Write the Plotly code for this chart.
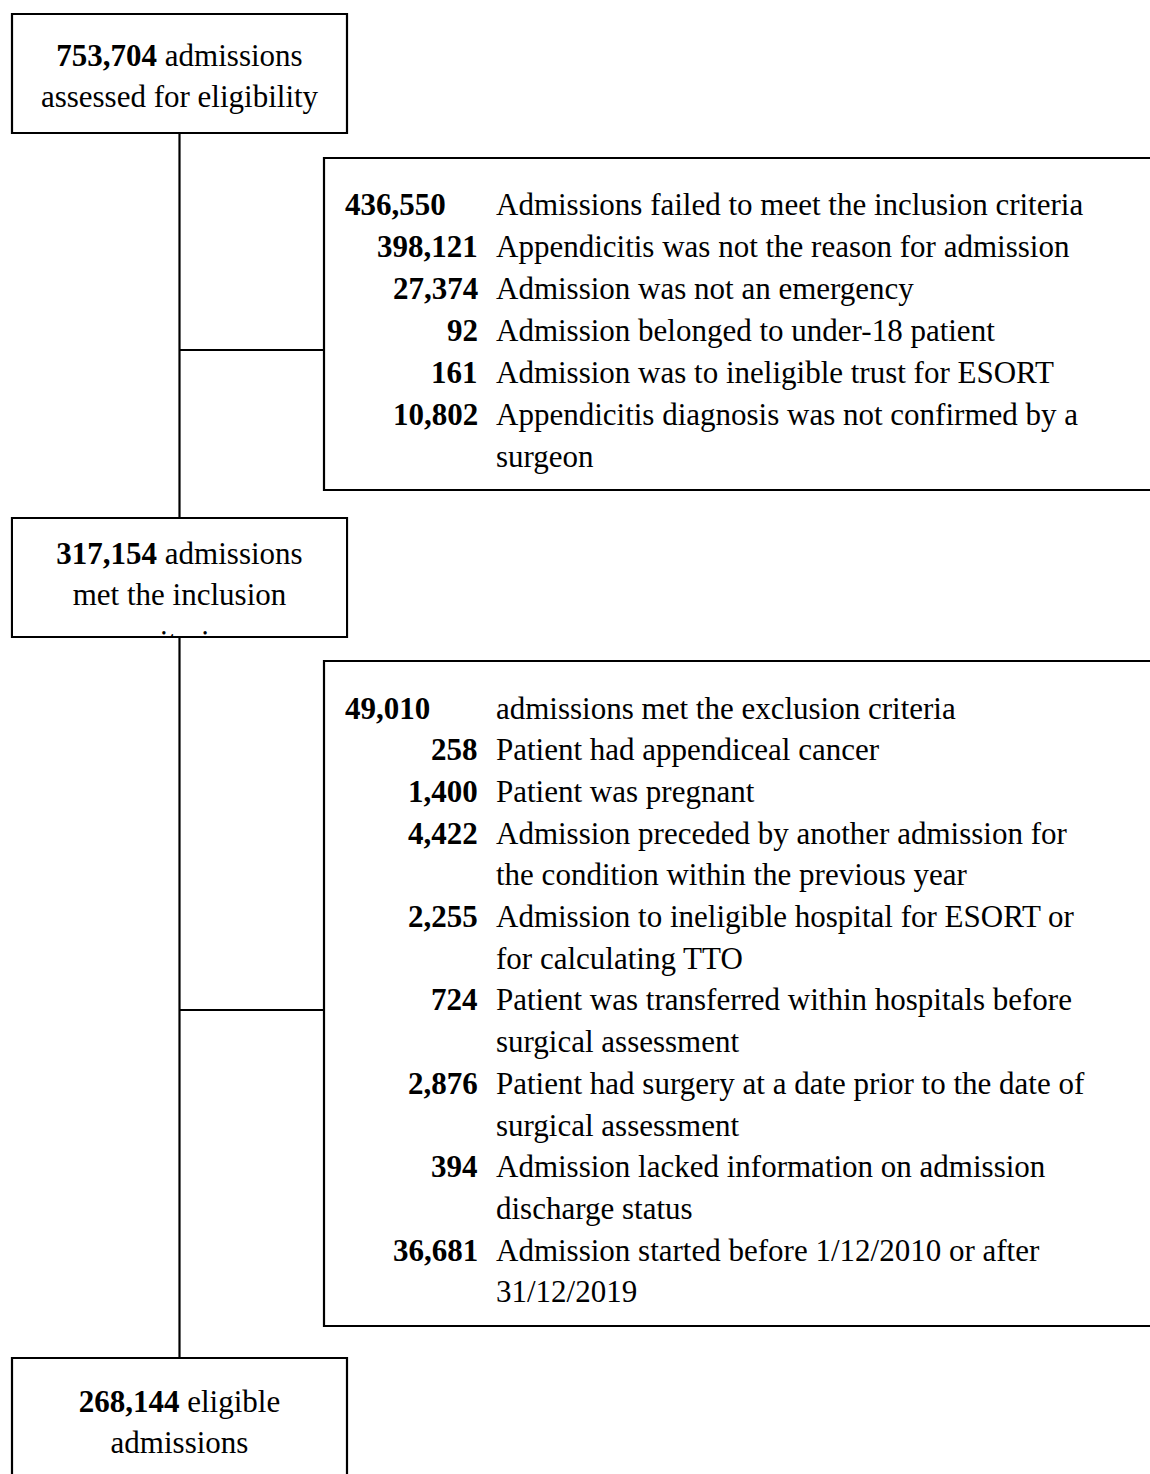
import plotly.graph_objects as go

# ---------------- data ----------------
stage_counts = ["753,704", "317,154", "268,144"]
stage_first_words = ["admissions", "admissions", "eligible"]
stage_more_lines = [["assessed for eligibility"],
                    ["met the inclusion", "criteria"],
                    ["admissions"]]

incl_total = "436,550"
incl_total_label = "Admissions failed to meet the inclusion criteria"
incl_counts = ["398,121", "27,374", "92", "161", "10,802"]
incl_reasons = [["Appendicitis was not the reason for admission"],
                ["Admission was not an emergency"],
                ["Admission belonged to under-18 patient"],
                ["Admission was to ineligible trust for ESORT"],
                ["Appendicitis diagnosis was not confirmed by a", "surgeon"]]

excl_total = "49,010"
excl_total_label = "admissions met the exclusion criteria"
excl_counts = ["258", "1,400", "4,422", "2,255", "724", "2,876", "394", "36,681"]
excl_reasons = [["Patient had appendiceal cancer"],
                ["Patient was pregnant"],
                ["Admission preceded by another admission for",
                 "the condition within the previous year"],
                ["Admission to ineligible hospital for ESORT or",
                 "for calculating TTO"],
                ["Patient was transferred within hospitals before",
                 "surgical assessment"],
                ["Patient had surgery at a date prior to the date of",
                 "surgical assessment"],
                ["Admission lacked information on admission",
                 "discharge status"],
                ["Admission started before 1/12/2010 or after",
                 "31/12/2019"]]

# ---------------- layout constants ----------------
W, H = 1150, 1474
FONT = "Liberation Serif"
FS = 31
LW = 2.2
main_x0, main_x1 = 12, 347
main_cx = 179.5
stage_boxes = [(14, 133), (518, 637), (1358, 1490)]
stage_text_y0 = [58, 556, 1404]
side_boxes = [(158, 490), (661, 1326)]
side_x0 = 324
side_row0 = [204, 708]
side_step = [42, 41.7]
num_right_x = 480
desc_x = 494
total_x = 343
branch_y = [350, 1010]
branch_x1 = [324, 327]
line_step = 41.5

fig = go.Figure()
shapes = []
annotations = []

def box(x0, y0, x1, y1, xref="x", yref="y"):
    shapes.append(dict(type="rect", x0=x0, x1=x1, y0=y0, y1=y1, xref=xref, yref=yref,
                       line=dict(color="black", width=LW), fillcolor="white", layer="below"))

def seg(x0, y0, x1, y1):
    shapes.append(dict(type="line", x0=x0, x1=x1, y0=y0, y1=y1, xref="x", yref="y",
                       line=dict(color="black", width=LW), layer="below"))

# connectors
seg(main_cx, stage_boxes[0][1], main_cx, stage_boxes[1][0])
seg(main_cx, stage_boxes[1][1], main_cx, stage_boxes[2][0])
for by, bx1 in zip(branch_y, branch_x1):
    seg(main_cx, by, bx1, by)

# boxes
for (y0, y1) in stage_boxes:
    box(main_x0, y0, main_x1, y1)
for (y0, y1) in side_boxes:
    box(side_x0, y0, W + 20, y1)

# stage texts (scatter text so that box 2 text is clipped by its own subplot)
for i, (cnt, w1, more) in enumerate(zip(stage_counts, stage_first_words, stage_more_lines)):
    lines = [f"<b>{cnt}</b> {w1}"] + more
    ys = [stage_text_y0[i] + k * line_step for k in range(len(lines))]
    if i == 1:
        ys[-1] = ys[-1] + 5
    axes = dict(xaxis="x2", yaxis="y2") if i == 1 else dict(xaxis="x", yaxis="y")
    fig.add_trace(go.Scatter(x=[main_cx] * len(lines), y=ys, text=lines, mode="text",
                             textposition="middle center", cliponaxis=True,
                             textfont=dict(family=FONT, size=FS, color="black"),
                             hoverinfo="skip", showlegend=False, **axes))

# side panels
def side_panel(row0, step, total, total_label, counts, reasons):
    annotations.append(dict(x=total_x, y=row0, text=f"<b>{total}</b>", xanchor="left",
                            yanchor="middle", showarrow=False, xref="x", yref="y"))
    annotations.append(dict(x=desc_x, y=row0, text=total_label, xanchor="left",
                            yanchor="middle", showarrow=False, xref="x", yref="y"))
    r = 1
    for c, lines in zip(counts, reasons):
        y = row0 + r * step
        annotations.append(dict(x=num_right_x, y=y, text=f"<b>{c}</b>", xanchor="right",
                                yanchor="middle", showarrow=False, xref="x", yref="y"))
        for k, ln in enumerate(lines):
            annotations.append(dict(x=desc_x, y=row0 + (r + k) * step, text=ln,
                                    xanchor="left", yanchor="middle", showarrow=False,
                                    xref="x", yref="y"))
        r += len(lines)

side_panel(side_row0[0], side_step[0], incl_total, incl_total_label, incl_counts, incl_reasons)
side_panel(side_row0[1], side_step[1], excl_total, excl_total_label, excl_counts, excl_reasons)

b2y0, b2y1 = stage_boxes[1]
fig.update_layout(
    width=W, height=H,
    margin=dict(l=0, r=0, t=0, b=0),
    paper_bgcolor="white", plot_bgcolor="white",
    font=dict(family=FONT, size=FS, color="black"),
    xaxis=dict(range=[0, W], visible=False, domain=[0, 1], fixedrange=True),
    yaxis=dict(range=[H, 0], visible=False, domain=[0, 1], fixedrange=True),
    xaxis2=dict(range=[main_x0 + 1, main_x1 - 1], visible=False,
                domain=[(main_x0 + 1) / W, (main_x1 - 1) / W], anchor="y2", fixedrange=True),
    yaxis2=dict(range=[b2y1 - 1, b2y0 + 1], visible=False,
                domain=[1 - (b2y1 - 1) / H, 1 - (b2y0 + 1) / H], anchor="x2", fixedrange=True),
    shapes=shapes,
    annotations=annotations,
    showlegend=False,
)

fig.write_html("out.html",
               config={"displayModeBar": False, "staticPlot": True},
               post_script="document.body.style.margin='0';"
                           "document.body.style.padding='0';"
                           "document.body.style.overflow='hidden';"
                           "document.documentElement.style.overflow='hidden';")
